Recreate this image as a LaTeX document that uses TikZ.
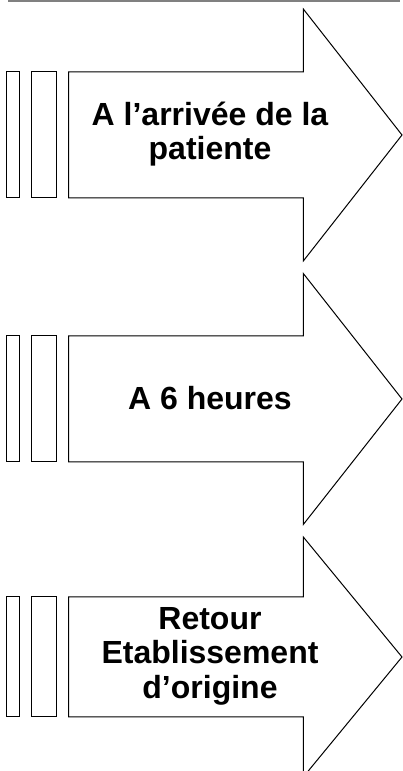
\documentclass[tikz,border=0pt]{standalone}
\usepackage{fontspec}
\setmainfont{Liberation Sans}
\usepackage{tikz}

\begin{document}
\begin{tikzpicture}[
            x=1pt, y=1pt,
            outline/.style={draw=black, line width=1pt, line join=miter, fill=white},
            phase/.style={align=center, font=\fontsize{32}{34.5}\selectfont\bfseries, inner sep=0pt},
        ]
            \useasboundingbox (0,0) rectangle (403,771);
            % rule at the top
            \draw[black!50, line width=2.2pt] (8,770) -- (400,770);
            % the three striped arrows
            \foreach \name/\yc/\sh/\hh/\txt in {
                arrive/636/63/126/{A l’arrivée de la\\patiente},
                sixh/372/63/125.5/{A 6 heures},
                retour/114/60/120/{Retour\\Etablissement\\d’origine}} {
                \draw[outline] (6.7,\yc-\sh) rectangle (19.3,\yc+\sh);
                \draw[outline] (31.7,\yc-\sh) rectangle (56.7,\yc+\sh);
                \draw[outline] (68.7,\yc-\sh) -- (68.7,\yc+\sh) -- (303.3,\yc+\sh)
                    -- (303.3,\yc+\hh) -- (402,\yc) -- (303.3,\yc-\hh)
                    -- (303.3,\yc-\sh) -- cycle;
                \node[phase] (\name) at (210,\yc+1) {\txt};
            }
        \end{tikzpicture}
\end{document}
